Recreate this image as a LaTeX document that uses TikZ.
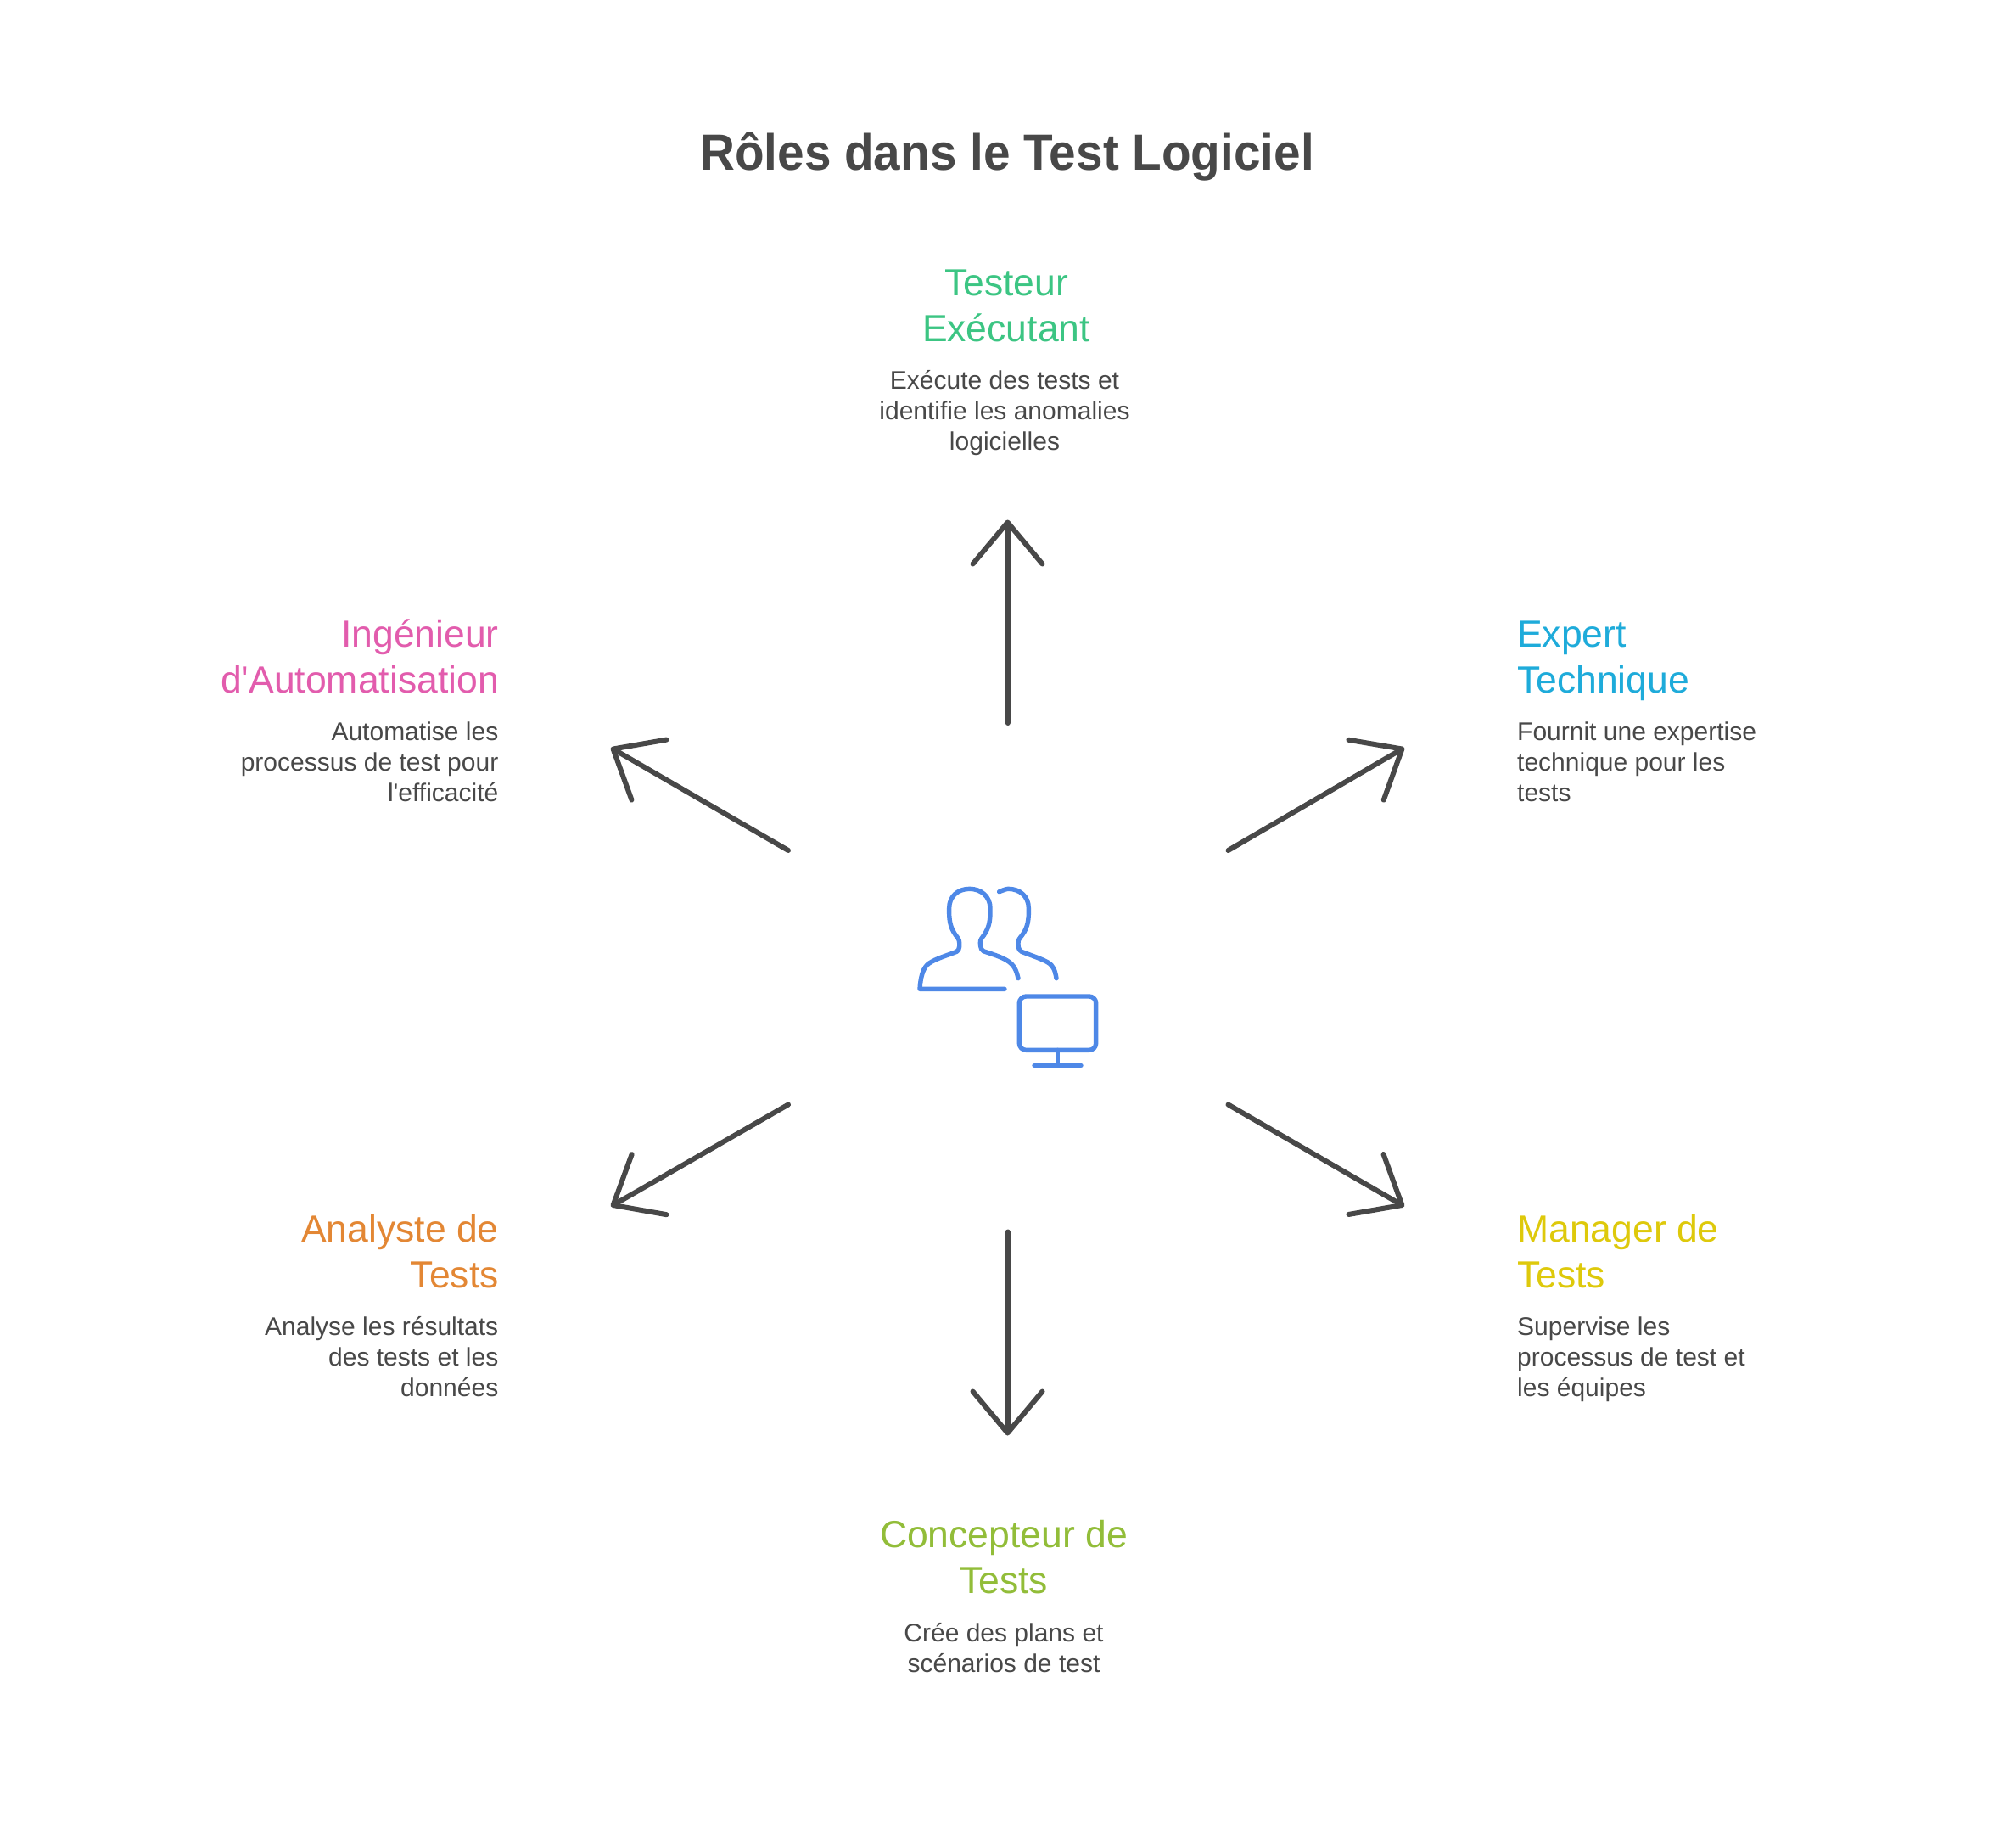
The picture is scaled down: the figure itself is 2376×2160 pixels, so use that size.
\documentclass[tikz,border=0pt]{standalone}
\usepackage{fontspec}
\usetikzlibrary{arrows.meta}
\setmainfont{Liberation Sans}[Ligatures=TeXOff]
\newfontfamily\titlefont{Liberation Sans}[Ligatures=TeXOff,FakeStretch=0.945]
\definecolor{ink}{HTML}{484848}
\definecolor{iconblue}{HTML}{4E88E7}
\definecolor{cgreen}{HTML}{3CC583}
\definecolor{cblue}{HTML}{1EABDA}
\definecolor{cpink}{HTML}{E25CAD}
\definecolor{corange}{HTML}{E38734}
\definecolor{cyellow}{HTML}{DEC90B}
\definecolor{clime}{HTML}{92BD39}
\tikzset{
  roletitle/.style={inner sep=0pt,font=\fontsize{44.5}{54}\selectfont},
  roledesc/.style={inner sep=0pt,text=ink,font=\fontsize{30}{36}\selectfont},
  spoke/.style={draw=ink,line width=6pt,line cap=round,-{Straight Barb[length=49pt,width=82pt,line width=6pt,round]}},
  iconline/.style={draw=iconblue,line width=5.4pt,line cap=round,line join=round}
}
\begin{document}
\begin{tikzpicture}[x=1pt,y=-1pt]
\useasboundingbox (0,0) rectangle (2376,2160);
\fill[white] (0,0) rectangle (2376,2160);
\node[inner sep=0pt,anchor=base,text=ink,font=\fontsize{60}{70}\selectfont\titlefont\bfseries] (title) at (1187,200) {Rôles dans le Test Logiciel};

% top
\node[roletitle,text=cgreen,align=center,anchor=base] (t1) at (1186,402) {Testeur\\Exécutant};
\node[roledesc,align=center,anchor=base] (d1) at (1184,530) {Exécute des tests et\\identifie les anomalies\\logicielles};
% right upper
\node[roletitle,text=cblue,align=left,anchor=base west] (t2) at (1788,816) {Expert\\Technique};
\node[roledesc,align=left,anchor=base west] (d2) at (1788,944.5) {Fournit une expertise\\technique pour les\\tests};
% right lower
\node[roletitle,text=cyellow,align=left,anchor=base west] (t3) at (1788,1517) {Manager de\\Tests};
\node[roledesc,align=left,anchor=base west] (d3) at (1788,1645.5) {Supervise les\\processus de test et\\les équipes};
% bottom
\node[roletitle,text=clime,align=center,anchor=base] (t4) at (1183,1877) {Concepteur de\\Tests};
\node[roledesc,align=center,anchor=base] (d4) at (1183,1970.5) {Crée des plans et\\scénarios de test};
% left lower
\node[roletitle,text=corange,align=right,anchor=base east] (t5) at (588,1517) {Analyste de\\Tests};
\node[roledesc,align=right,anchor=base east] (d5) at (587.5,1645.5) {Analyse les résultats\\des tests et les\\données};
% left upper
\node[roletitle,text=cpink,align=right,anchor=base east] (t6) at (588,816) {Ingénieur\\d'Automatisation};
\node[roledesc,align=right,anchor=base east] (d6) at (587.5,944.5) {Automatise les\\processus de test pour\\l'efficacité};

% spokes
\coordinate (s1) at (1187.5,852); \coordinate (e1) at (1187.5,612.5);
\coordinate (s2) at (1447.5,1002); \coordinate (e2) at (1655,881);
\coordinate (s3) at (1447.5,1301.5); \coordinate (e3) at (1655,1421.5);
\coordinate (s4) at (1187.5,1451.5); \coordinate (e4) at (1187.5,1691.5);
\coordinate (s5) at (929,1301.5); \coordinate (e5) at (720,1421.5);
\coordinate (s6) at (929,1002); \coordinate (e6) at (720,881);
\foreach \i in {1,...,6} \draw[spoke] (s\i) -- (e\i);

% icon
\begin{scope}[shift={(1040,1010)},x=0.33333pt,y=-0.33333pt]
\draw[iconline] (480,428) .. controls (473,398) and (465,380) .. (440,365) .. controls (415,350) and (385,342) .. (357,332) .. controls (345,327) and (345,300) .. (347,295) .. controls (350,280) and (380,265) .. (381,200) -- (381,180) .. controls (381,140) and (350,112) .. (308,112) .. controls (265,112) and (236,140) .. (236,180) -- (236,200) .. controls (237,265) and (268,280) .. (271,295) .. controls (273,305) and (275,328) .. (262,334) .. controls (230,347) and (190,358) .. (165,375) .. controls (145,388) and (135,420) .. (132,466) -- (432,466);
\draw[iconline] (413,122) .. controls (430,115) and (440,112) .. (445,112) .. controls (487,112) and (517,140) .. (517,180) -- (517,200) .. controls (516,265) and (485,280) .. (481,295) .. controls (479,305) and (478,328) .. (492,334) .. controls (525,347) and (560,358) .. (585,372) .. controls (605,384) and (610,400) .. (615,428);
\draw[iconline,rounded corners=8pt] (484,492) rectangle (755,682);
\draw[iconline] (620,682) -- (620,736);
\draw[iconline] (537,736) -- (702,736);
\end{scope}
\end{tikzpicture}
\end{document}
